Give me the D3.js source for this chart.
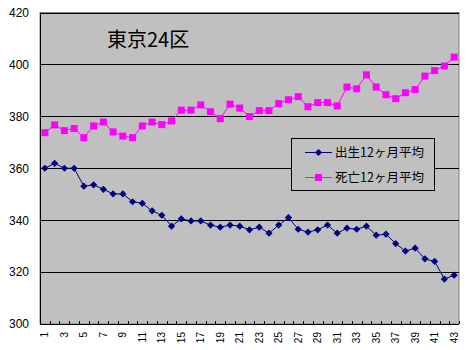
<!DOCTYPE html>
<html><head><meta charset="utf-8">
<script src="https://cdn.jsdelivr.net/npm/d3@7/dist/d3.min.js"></script>
<style>body{margin:0;background:#fff}</style>
</head><body>
<script>
const categories = d3.range(1, 44).map(String);
const births = [360,361.9,360,360,353.1,353.6,351.9,350.1,350.1,347.1,346.5,343.6,341.9,337.7,340.5,339.7,339.7,338.1,337.3,338.1,337.7,336.3,337.3,335,338.1,341,336.5,335.4,336.3,338.1,335,336.9,336.5,337.7,334.2,334.6,331,328.1,329.2,325.1,324.1,317.3,318.8];
const deaths = [373.7,376.7,374.5,375.3,371.8,376.3,377.8,374,372.4,371.8,376.3,377.8,376.8,378.2,382.4,382.4,384.4,381.8,379.1,384.7,383.2,379.9,382.2,382.2,384.9,386.4,387.6,383.7,385.3,385.3,384,391.3,390.6,396,391.3,388.3,386.8,389.1,390.3,395.5,397.6,399.4,402.8];
const yTicks = [300,320,340,360,380,400,420];
const seriesNames = ["出生12ヶ月平均","死亡12ヶ月平均"];
const title = "東京24区";

const W = 469, H = 350;
const L = 40, R = 459, T = 12.5, B = 324;
const svg = d3.select("body").append("svg").attr("width", W).attr("height", H);

const x = d3.scaleBand().domain(categories).range([L, R]).padding(0);
const y = d3.scaleLinear().domain([300, 420]).range([B, T]);

svg.append("rect").attr("x", L).attr("y", T).attr("width", R - L).attr("height", B - T)
  .attr("fill", "#c0c0c0").attr("stroke", "#808080").attr("stroke-width", 1);

// gridlines
svg.append("g").selectAll("line").data(yTicks.filter(d => d > 300)).join("line")
  .attr("x1", L).attr("x2", R)
  .attr("y1", d => Math.round(y(d)) + 0.5).attr("y2", d => Math.round(y(d)) + 0.5)
  .attr("stroke", "#000").attr("stroke-width", 1);

// y axis
const yAxis = svg.append("g").attr("transform", `translate(${L},0)`)
  .call(d3.axisLeft(y).tickValues(yTicks).tickSize(0).tickPadding(11));
yAxis.select(".domain").attr("stroke", "#000");
yAxis.selectAll("text").attr("font-family", "Arial, 'Liberation Sans', sans-serif").attr("font-size", 12).attr("fill", "#000");

// x axis line and ticks at band boundaries
const bounds = categories.map(c => x(c)).concat([x(categories[categories.length - 1]) + x.bandwidth()]);
svg.append("g").selectAll("line").data(bounds).join("line")
  .attr("x1", d => Math.round(d) + 0.5).attr("x2", d => Math.round(d) + 0.5)
  .attr("y1", B).attr("y2", B - 3).attr("stroke", "#000");
svg.append("line").attr("x1", L).attr("x2", R).attr("y1", B + 0.5).attr("y2", B + 0.5).attr("stroke", "#000").attr("stroke-width", 1.2);
svg.append("line").attr("x1", L + 0.5).attr("x2", L + 0.5).attr("y1", T).attr("y2", B).attr("stroke", "#000");

// x labels (odd only), rotated
svg.append("g").selectAll("text").data(categories.filter((d, i) => i % 2 === 0)).join("text")
  .attr("transform", d => `translate(${x(d) + x.bandwidth() / 2 + 3.5},${B + 8}) rotate(-90)`)
  .attr("text-anchor", "end")
  .attr("font-family", "Arial, 'Liberation Sans', sans-serif").attr("font-size", 10).attr("fill", "#000")
  .text(d => d);

const line = d3.line().x((d, i) => x(categories[i]) + x.bandwidth() / 2).y(d => y(d));

// deaths
svg.append("path").datum(deaths).attr("d", line).attr("fill", "none").attr("stroke", "#ff00ff").attr("stroke-width", 1);
svg.append("g").selectAll("rect").data(deaths).join("rect")
  .attr("x", (d, i) => x(categories[i]) + x.bandwidth() / 2 - 3.5)
  .attr("y", d => y(d) - 3.5).attr("width", 7).attr("height", 7).attr("fill", "#ff00ff");

// births
svg.append("path").datum(births).attr("d", line).attr("fill", "none").attr("stroke", "#000080").attr("stroke-width", 1);
svg.append("g").selectAll("path").data(births).join("path")
  .attr("d", d3.symbol().type(d3.symbolSquare).size(26))
  .attr("transform", (d, i) => `translate(${x(categories[i]) + x.bandwidth() / 2},${y(d)}) rotate(45)`)
  .attr("fill", "#000080");

// title
svg.append("text").attr("x", 107).attr("y", 47).attr("font-family", "'Noto Sans CJK JP', sans-serif")
  .attr("font-size", 20).attr("fill", "#000").text(title);

// legend
const lg = svg.append("g");
lg.append("rect").attr("x", 291.5).attr("y", 138.5).attr("width", 143).attr("height", 52)
  .attr("fill", "#c0c0c0").attr("stroke", "#000").attr("stroke-width", 1);
const ly = [152, 177];
const colors = ["#000080", "#ff00ff"];
seriesNames.forEach((name, i) => {
  lg.append("line").attr("x1", 305).attr("x2", 332).attr("y1", ly[i] + 0.5).attr("y2", ly[i] + 0.5).attr("stroke", colors[i]);
  if (i === 0) {
    lg.append("path").attr("d", d3.symbol().type(d3.symbolSquare).size(26)())
      .attr("transform", `translate(318.5,${ly[i] + 0.5}) rotate(45)`).attr("fill", colors[i]);
  } else {
    lg.append("rect").attr("x", 315).attr("y", ly[i] - 3).attr("width", 7).attr("height", 7).attr("fill", colors[i]);
  }
  lg.append("text").attr("x", 335).attr("y", ly[i] + 5).attr("font-family", "'Noto Sans CJK JP', sans-serif")
    .attr("font-size", 12.5).attr("fill", "#000").text(name);
});
</script>
</body></html>
